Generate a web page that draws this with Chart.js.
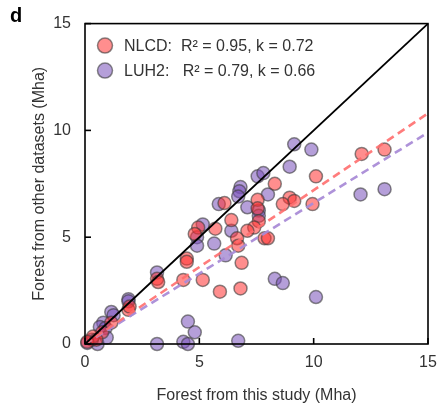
<!DOCTYPE html>
<html>
<head>
<meta charset="utf-8">
<script src="https://cdn.jsdelivr.net/npm/chart.js@4"></script>
<style>
  html, body { margin: 0; padding: 0; background: #fff; }
  #wrap { width: 439px; height: 409px; }
</style>
</head>
<body>
<div id="wrap"><canvas id="forest-chart" width="439" height="409"></canvas></div>
<script>
"use strict";

Chart.defaults.font.family = "Arial, 'Liberation Sans', sans-serif";
Chart.defaults.font.size = 16;
Chart.defaults.color = "#333";

// NLCD vs this study (Mha)
var nlcdX = [13.1, 12.1, 10.1, 8.3, 8.95, 9.15, 8.65, 9.95, 7.55, 7.55, 7.6, 6.1, 6.4, 7.4, 7.1, 5.7, 4.95, 4.8, 6.65, 7.85, 8.0, 6.7, 4.45, 4.45, 6.85, 4.3, 5.15, 5.9, 6.8, 3.15, 3.2, 1.9, 1.95, 1.15, 0.75, 0.35, 0.1, 0.5];
var nlcdY = [9.1, 8.9, 7.85, 7.5, 6.85, 6.7, 6.55, 6.55, 6.75, 6.35, 5.75, 6.6, 5.8, 5.45, 5.3, 5.4, 5.45, 5.15, 4.95, 4.95, 4.95, 4.6, 4.0, 3.85, 3.8, 3.0, 3.0, 2.45, 2.6, 3.05, 2.9, 1.6, 1.75, 1.0, 0.55, 0.35, 0.1, 0.2];

// LUH2 vs this study (Mha)
var luhX = [9.15, 9.9, 8.95, 7.55, 7.8, 6.8, 6.75, 6.7, 8.0, 12.05, 13.1, 5.85, 7.1, 7.6, 7.6, 5.15, 6.4, 4.9, 4.9, 5.65, 6.15, 8.3, 8.65, 10.1, 4.5, 4.8, 4.3, 4.5, 6.7, 3.15, 1.9, 1.9, 1.15, 1.25, 0.8, 0.65, 0.9, 0.1, 0.55, 0.95, 3.15, 0.3];
var luhY = [9.35, 9.1, 8.3, 7.85, 8.0, 7.35, 7.15, 6.9, 7.0, 7.0, 7.25, 6.55, 6.4, 6.25, 6.0, 5.6, 5.3, 5.0, 4.6, 4.7, 4.15, 3.05, 2.85, 2.2, 1.05, 0.55, 0.1, 0.0, 0.15, 3.35, 2.1, 2.0, 1.5, 1.35, 1.0, 0.8, 0.75, 0.05, 0.0, 0.3, 0.0, 0.2];

// fitted slopes and R2 from the legend
var slopeK = { nlcd: 0.72, luh: 0.66 };
var legendText = ["NLCD:  R\u00B2 = 0.95, k = 0.72", "LUH2:   R\u00B2 = 0.79, k = 0.66"];
var axisMax = 15;

var redFill = "rgba(255,50,50,0.55)";
var purpleFill = "rgba(120,80,185,0.55)";
var edge = "rgba(60,60,60,0.6)";

function toPoints(xs, ys) {
  return xs.map(function (x, i) { return { x: x, y: ys[i] }; });
}

// frame, inward ticks, legend and panel letter
var decorPlugin = {
  id: "decor",
  afterDatasetsDraw: function (chart) {
    var c = chart.ctx;
    var a = chart.chartArea;
    var xs = chart.scales.x, ys = chart.scales.y;
    c.save();
    c.strokeStyle = "#000";
    c.lineWidth = 1.6;
    c.strokeRect(a.left, a.top, a.right - a.left, a.bottom - a.top);
    xs.ticks.forEach(function (t) {
      var px = xs.getPixelForValue(t.value);
      c.beginPath(); c.moveTo(px, a.bottom); c.lineTo(px, a.bottom - 6); c.stroke();
    });
    ys.ticks.forEach(function (t) {
      var py = ys.getPixelForValue(t.value);
      c.beginPath(); c.moveTo(a.left, py); c.lineTo(a.left + 6, py); c.stroke();
    });

    // legend
    var fills = [redFill, purpleFill];
    c.font = "16px Arial, 'Liberation Sans', sans-serif";
    c.textBaseline = "middle";
    c.textAlign = "left";
    for (var i = 0; i < 2; i++) {
      var cy = a.top + 22 + i * 25;
      var cx = a.left + 20;
      c.beginPath();
      c.arc(cx, cy, 7.5, 0, Math.PI * 2);
      c.fillStyle = fills[i];
      c.fill();
      c.lineWidth = 1.5;
      c.strokeStyle = edge;
      c.stroke();
      c.fillStyle = "#333";
      c.fillText(legendText[i], cx + 19, cy + 1);
    }

    c.font = "bold 20px Arial, 'Liberation Sans', sans-serif";
    c.fillStyle = "#000";
    c.textBaseline = "alphabetic";
    c.fillText("d", 10, 22);
    c.restore();
  }
};

var ctx = document.getElementById("forest-chart").getContext("2d");

var forestChart = new Chart(ctx, {
  type: "scatter",
  data: {
    datasets: [
      {
        label: "1:1",
        type: "line",
        data: [{ x: 0, y: 0 }, { x: axisMax, y: axisMax }],
        borderColor: "#000",
        borderWidth: 1.8,
        pointRadius: 0,
        order: 0,
      },
      {
        label: "NLCD fit",
        type: "line",
        data: [{ x: 0, y: 0 }, { x: axisMax, y: axisMax * slopeK.nlcd }],
        borderColor: "rgba(255,110,110,0.9)",
        borderWidth: 2.6,
        borderDash: [8, 5],
        pointRadius: 0,
        order: 0,
      },
      {
        label: "LUH2 fit",
        type: "line",
        data: [{ x: 0, y: 0 }, { x: axisMax, y: axisMax * slopeK.luh }],
        borderColor: "rgba(170,140,215,0.95)",
        borderWidth: 2.6,
        borderDash: [8, 5],
        pointRadius: 0,
        order: 0,
      },
      {
        label: "NLCD",
        data: toPoints(nlcdX, nlcdY),
        backgroundColor: redFill,
        borderColor: edge,
        borderWidth: 1.5,
        pointRadius: 6.5,
        order: 1,
      },
      {
        label: "LUH2",
        data: toPoints(luhX, luhY),
        backgroundColor: purpleFill,
        borderColor: edge,
        borderWidth: 1.5,
        pointRadius: 6.5,
        order: 1,
      },
    ],
  },
  options: {
    responsive: false,
    animation: false,
    clip: false,
    layout: { padding: { left: 0, right: 11, top: 21, bottom: 0 } },
    plugins: {
      legend: { display: false },
      tooltip: { enabled: false },
    },
    scales: {
      x: {
        type: "linear",
        min: 0,
        max: axisMax,
        grid: { display: false, drawTicks: false },
        border: { display: false },
        ticks: { stepSize: 5, padding: 9, color: "#333" },
        title: {
          display: true,
          text: "Forest from this study (Mha)",
          color: "#333",
          font: { size: 16 },
          padding: { top: 12 },
        },
        afterFit: function (s) {
          s.height = 65;
          s.paddingRight = 0;
        },
      },
      y: {
        type: "linear",
        min: 0,
        max: axisMax,
        grid: { display: false, drawTicks: false },
        border: { display: false },
        ticks: { stepSize: 5, padding: 14, color: "#333" },
        title: {
          display: true,
          text: "Forest from other datasets (Mha)",
          color: "#333",
          font: { size: 16 },
          padding: { top: 30, bottom: 0 },
        },
        afterFit: function (s) { s.width = 85; },
      },
    },
  },
  plugins: [decorPlugin],
});
</script>
</body>
</html>
